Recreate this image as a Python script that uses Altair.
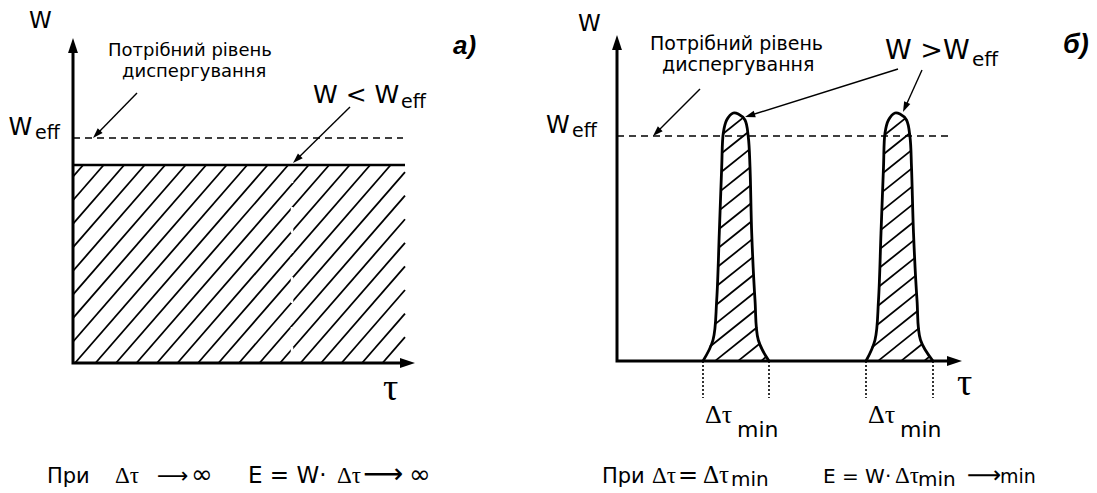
import math
import altair as alt
import numpy as np
import pandas as pd

# ---------------- values ----------------
# schematic units: tau (horizontal) and W (vertical), origin at each panel's axes

# Panel а): constant power below the required dispersion level
A_TAU_END = 33.2      # right end of the hatched region
A_W_LEVEL = 19.8      # actual power level W
A_W_EFF = 22.5        # required level W_eff
A_DASH_END = 33.0
A_X_TIP = 34.2
A_Y_TIP = 32.5
A_BREAK_TAU = 21.9

# Panel б): two short pulses above W_eff
B_W_EFF = 22.5
B_DASH_END = 33.3
B_X_TIP = 34.5
B_Y_TIP = 32.6
PULSE1_TAU = [8.6, 9.6, 9.97, 10.23, 10.47, 10.63, 10.97, 11.63, 12.13, 12.8, 13.13, 13.3, 13.47, 13.8, 14.13, 15.2]
PULSE2_TAU = [24.9, 25.8, 26.15, 26.4, 26.65, 26.8, 27.15, 27.8, 28.3, 28.95, 29.3, 29.45, 29.65, 30.0, 30.35, 31.6]
PULSE_W = [0, 2.1, 6.1, 12.8, 19.4, 22.8, 24.1, 24.8, 24.7, 24.1, 22.4, 19.4, 12.8, 6.1, 2.1, 0]
DTAU_EDGES = [8.6, 15.2, 24.9, 31.6]
DTAU_LOW = -3.7

# annotation arrows (start -> tip)
A_ARROW_FROM = [(6.4, 27.0), (27.7, 25.6)]
A_ARROW_TO = [(2.0, 22.5), (22.0, 20.0)]
B_ARROW_FROM = [(8.3, 27.2), (28.1, 29.2), (30.5, 29.1)]
B_ARROW_TO = [(3.6, 22.5), (12.8, 24.4), (28.6, 24.9)]

# texts: (text, tau, W, font size, style)
A_TEXT = [
    ("W", -4.4, 33.5, 23, "sans"),
    ("W", -6.45, 22.8, 24, "sans"),
    ("eff", -3.8, 22.4, 19, "sans"),
    ("Потрібний рівень", 3.5, 30.7, 18, "sans"),
    ("диспергування", 4.9, 28.6, 18, "sans"),
    ("W < W", 24.0, 26.0, 25, "sans"),
    ("eff", 32.8, 25.5, 19, "sans"),
    ("а)", 38.0, 30.9, 26, "boldital"),
    ("τ", 31.0, -3.7, 38, "serif"),
    ("При", -2.6, -12.0, 21, "sans"),
    ("Δτ", 4.2, -12.0, 23, "serif"),
    ("⟶", 8.4, -12.0, 22, "sans"),
    ("∞", 11.8, -12.0, 26, "sans"),
    ("E = W·", 17.5, -12.0, 23, "sans"),
    ("Δτ", 26.4, -12.0, 23, "serif"),
    ("⟶", 29.0, -12.0, 28, "sans"),
    ("∞", 33.6, -12.0, 26, "sans"),
]
B_TEXT = [
    ("W", -3.9, 33.0, 23, "sans"),
    ("W", -7.1, 22.8, 24, "sans"),
    ("eff", -4.5, 22.4, 19, "sans"),
    ("Потрібний рівень", 3.3, 31.1, 19, "sans"),
    ("диспергування", 4.5, 29.0, 19, "sans"),
    ("W >W", 26.8, 30.2, 27, "sans"),
    ("eff", 35.5, 29.5, 20, "sans"),
    ("б)", 44.6, 30.8, 27, "boldital"),
    ("Δτ", 8.8, -6.2, 26, "serif"),
    ("min", 12.0, -7.6, 22, "sans"),
    ("Δτ", 25.1, -6.2, 26, "serif"),
    ("min", 28.3, -7.6, 22, "sans"),
    ("τ", 34.0, -3.4, 38, "serif"),
    ("При", -1.5, -12.2, 21, "sans"),
    ("Δτ", 3.5, -12.2, 23, "serif"),
    ("=", 6.1, -12.2, 24, "sans"),
    ("Δτ", 8.6, -12.2, 25, "serif"),
    ("min", 11.4, -12.5, 20, "sans"),
    ("E = W·", 20.6, -12.2, 20, "sans"),
    ("Δτ", 27.8, -12.2, 23, "serif"),
    ("min", 30.1, -12.5, 20, "sans"),
    ("⟶", 35.0, -12.2, 24, "sans"),
    ("min", 38.3, -12.2, 19, "sans"),
]

# ---------------- layout (scales) ----------------
A_X_DOMAIN, A_Y_DOMAIN, A_W = [-6.5, 46.7], [-12.2, 35.5], 532
B_X_DOMAIN, B_Y_DOMAIN, B_W = [-7.7, 47.2], [-12.4, 35.3], 549
H = 477

FONTS = {
    "sans": dict(font="DejaVu Sans"),
    "serif": dict(font="Liberation Serif"),
    "boldital": dict(font="Liberation Sans", fontStyle="italic", fontWeight="bold"),
}


# ---------------- helpers ----------------
class Lines:
    def __init__(self):
        self.rows = []
        self.n = 0

    def add(self, style, xs, ys):
        self.n += 1
        for k, (x, y) in enumerate(zip(xs, ys)):
            self.rows.append(dict(style=style, id=self.n, ord=k, x=x, y=y))

    def df(self):
        return pd.DataFrame(self.rows)


def inside(px, py, polx, poly):
    polx = np.asarray(polx)
    poly = np.asarray(poly)
    res = np.zeros(px.shape, dtype=bool)
    j = len(polx) - 1
    for i in range(len(polx)):
        xi, yi, xj, yj = polx[i], poly[i], polx[j], poly[j]
        cond = ((yi > py) != (yj > py)) & (px < (xj - xi) * (py - yi) / (yj - yi + 1e-12) + xi)
        res ^= cond
        j = i
    return res


def pulse_hatch(L, taus, ws, slope=0.8, step=2.3):
    wmax = max(ws)
    c = min(taus) - wmax / slope
    while c < max(taus):
        tt = np.linspace(c, c + wmax / slope, 1500)
        ww = slope * (tt - c)
        m = inside(tt, ww, taus, ws) & (ww > 0.05)
        if m.any():
            idx = np.where(m)[0]
            L.add("hatch", [tt[idx[0]], tt[idx[-1]]], [ww[idx[0]], ww[idx[-1]]])
        c += step


def arrow_head(tip, frm, size):
    ang = math.degrees(math.atan2(tip[0] - frm[0], tip[1] - frm[1])) % 360
    return dict(x=tip[0], y=tip[1], angle=ang, size=size)


def shorten(frm, tip, d):
    dx, dy = tip[0] - frm[0], tip[1] - frm[1]
    n = math.hypot(dx, dy)
    return (tip[0] - dx / n * d, tip[1] - dy / n * d)


# ---------------- panel а ----------------
La = Lines()
slope_a, step_a = 1.15, 2.05
c = 0.2 - step_a * math.ceil(A_W_LEVEL / slope_a / step_a)
while c < A_TAU_END:
    lo = max(0.0, c)
    hi = min(A_TAU_END, c + A_W_LEVEL / slope_a)
    if hi > lo:
        La.add("hatch", [lo, hi], [slope_a * (lo - c), slope_a * (hi - c)])
    c += step_a
La.add("break", [A_BREAK_TAU, A_BREAK_TAU], [0, A_W_LEVEL])
La.add("outline", [0, A_TAU_END], [A_W_LEVEL, A_W_LEVEL])
La.add("dash", [0, A_DASH_END], [A_W_EFF, A_W_EFF])
ex = shorten((0, 0), (A_X_TIP, 0), 0.8)
ey = shorten((0, 0), (0, A_Y_TIP), 0.8)
La.add("axis", [ey[0], 0, ex[0]], [ey[1], 0, ex[1]])
heads_a = [arrow_head((A_X_TIP, 0), (0, 0), 900), arrow_head((0, A_Y_TIP), (0, 0), 900)]
for f, t in zip(A_ARROW_FROM, A_ARROW_TO):
    e = shorten(f, t, 0.5)
    La.add("annot", [f[0], e[0]], [f[1], e[1]])
    heads_a.append(arrow_head(t, f, 420))

# ---------------- panel б ----------------
Lb = Lines()
pulse_hatch(Lb, PULSE1_TAU, PULSE_W)
pulse_hatch(Lb, PULSE2_TAU, PULSE_W)
Lb.add("pulse", PULSE1_TAU, PULSE_W)
Lb.add("pulse", PULSE2_TAU, PULSE_W)
Lb.add("dash", [0, B_DASH_END], [B_W_EFF, B_W_EFF])
for t in DTAU_EDGES:
    Lb.add("dot", [t, t], [0, DTAU_LOW])
ex = shorten((0, 0), (B_X_TIP, 0), 0.8)
ey = shorten((0, 0), (0, B_Y_TIP), 0.8)
Lb.add("axis", [ey[0], 0, ex[0]], [ey[1], 0, ex[1]])
heads_b = [arrow_head((B_X_TIP, 0), (0, 0), 900), arrow_head((0, B_Y_TIP), (0, 0), 900)]
for f, t in zip(B_ARROW_FROM, B_ARROW_TO):
    e = shorten(f, t, 0.5)
    Lb.add("annot", [f[0], e[0]], [f[1], e[1]])
    heads_b.append(arrow_head(t, f, 420))

STYLES = {
    "hatch": dict(strokeWidth=1.8, color="black"),
    "break": dict(strokeWidth=2.5, color="white", strokeDash=[6, 4]),
    "outline": dict(strokeWidth=2.6, color="black"),
    "pulse": dict(strokeWidth=2.8, color="black", interpolate="catmull-rom"),
    "dash": dict(strokeWidth=1.6, color="black", strokeDash=[7, 5]),
    "dot": dict(strokeWidth=1.6, color="black", strokeDash=[2, 2]),
    "axis": dict(strokeWidth=3, color="black"),
    "annot": dict(strokeWidth=1.4, color="black"),
}
ORDER = ["hatch", "break", "outline", "pulse", "dash", "dot", "axis", "annot"]
HEAD = "M0,0 L-0.33,1 L0.33,1 Z"


def panel(lines, heads, texts, xdom, ydom, width):
    xs = alt.Scale(domain=xdom, nice=False, zero=False)
    ys = alt.Scale(domain=ydom, nice=False, zero=False)
    X = lambda: alt.X("x:Q", scale=xs, axis=None)
    Y = lambda: alt.Y("y:Q", scale=ys, axis=None)
    ldf = lines.df()
    layers = []
    for st in ORDER:
        sub = ldf[ldf["style"] == st]
        if len(sub) == 0:
            continue
        layers.append(
            alt.Chart(sub).mark_line(**STYLES[st]).encode(
                x=X(), y=Y(), detail="id:N", order="ord:Q"
            )
        )
    layers.append(
        alt.Chart(pd.DataFrame(heads)).mark_point(
            shape=HEAD, filled=True, color="black", opacity=1, strokeWidth=0
        ).encode(
            x=X(), y=Y(),
            angle=alt.Angle("angle:Q", scale=None),
            size=alt.Size("size:Q", scale=None),
        )
    )
    tdf = pd.DataFrame(texts, columns=["text", "x", "y", "fs", "style"])
    for st, kw in FONTS.items():
        sub = tdf[tdf["style"] == st]
        if len(sub) == 0:
            continue
        layers.append(
            alt.Chart(sub).mark_text(
                align="left", baseline="alphabetic", color="black", **kw
            ).encode(
                x=X(), y=Y(), text="text:N",
                size=alt.Size("fs:Q", scale=None),
            )
        )
    return alt.layer(*layers).properties(width=width, height=H)


pa = panel(La, heads_a, A_TEXT, A_X_DOMAIN, A_Y_DOMAIN, A_W)
pb = panel(Lb, heads_b, B_TEXT, B_X_DOMAIN, B_Y_DOMAIN, B_W)

chart = (
    alt.hconcat(pa, pb, spacing=0)
    .properties(padding=0, background="white")
    .configure_view(stroke=None)
)
chart.save("out.html", embed_options={"renderer": "svg", "actions": False})
